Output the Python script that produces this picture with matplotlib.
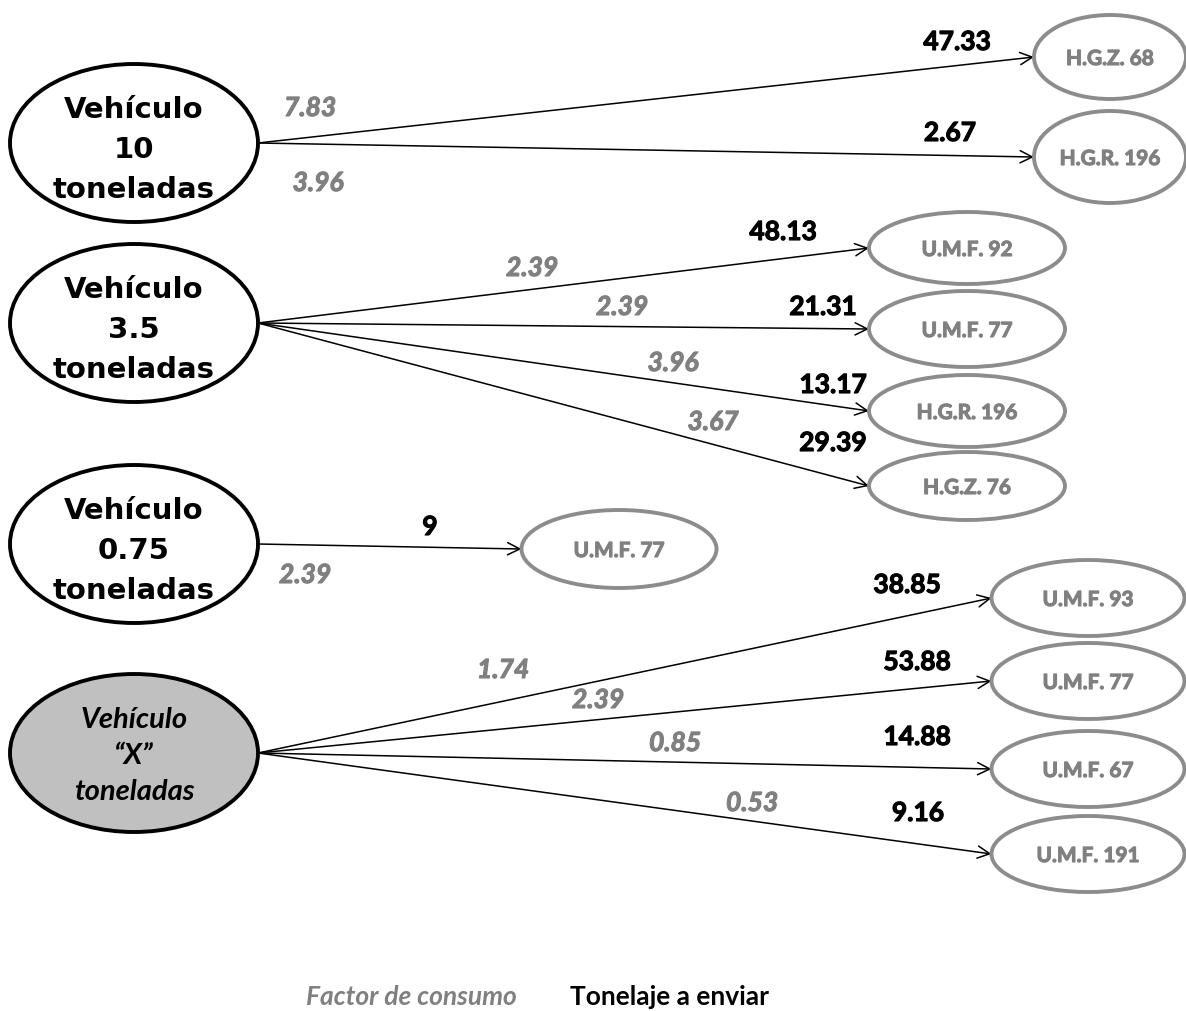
import matplotlib
matplotlib.use("Agg")
import matplotlib.pyplot as plt
import matplotlib.patheffects as pe
from matplotlib.patches import Ellipse

plt.rcParams['font.family'] = ['Lato', 'DejaVu Sans']

# data
vehicles = ["Vehículo\n10\ntoneladas", "Vehículo\n3.5\ntoneladas",
            "Vehículo\n0.75\ntoneladas", "Vehículo\n“X”\ntoneladas"]
destinos = [["H.G.Z. 68", "H.G.R. 196"],
            ["U.M.F. 92", "U.M.F. 77", "H.G.R. 196", "H.G.Z. 76"],
            ["U.M.F. 77"],
            ["U.M.F. 93", "U.M.F. 77", "U.M.F. 67", "U.M.F. 191"]]
factor = [[7.83, 3.96], [2.39, 2.39, 3.96, 3.67], [2.39], [1.74, 2.39, 0.85, 0.53]]
tonelaje = [[47.33, 2.67], [48.13, 21.31, 13.17, 29.39], [9], [38.85, 53.88, 14.88, 9.16]]

# layout (pixel space)
src_y = [143, 323, 544, 753]
src_x, src_w, src_h = 134, 248, 158
dst_boxes = [[(1110, 57, 152, 84), (1110, 157, 152, 92)],
             [(967, 248, 196, 72), (967, 329, 196, 76), (967, 411, 196, 72), (967, 486, 196, 68)],
             [(619, 549, 195, 78)],
             [(1088, 598, 193, 76), (1088, 681, 193, 76), (1088, 769, 193, 76), (1088, 854, 193, 76)]]
factor_pos = [[(310, 108), (318, 183)],
              [(532, 268), (622, 307), (673, 363), (713, 422)],
              [(305, 575)],
              [(503, 670), (598, 700), (675, 743), (752, 803)]]
ton_pos = [[(957, 42), (950, 133)],
           [(783, 232), (823, 307), (833, 385), (833, 443)],
           [(430, 527)],
           [(907, 585), (917, 662), (917, 737), (918, 813)]]

grey = '#808080'


def thick(c):
    # makes Lato bold look closer to the heavy original lettering
    return [pe.withStroke(linewidth=0.8, foreground=c)]


fig = plt.figure(figsize=(11.86, 10.11), dpi=100)
ax = fig.add_axes([0, 0, 1, 1])
ax.set_xlim(0, 1186)
ax.set_ylim(1011, 0)
ax.axis('off')

for i, name in enumerate(vehicles):
    cy = src_y[i]
    is_x = (i == 3)
    ax.add_patch(Ellipse((src_x, cy), src_w, src_h,
                         facecolor='#c0c0c0' if is_x else 'white',
                         edgecolor='black', lw=2.8, zorder=3))
    if is_x:
        ax.text(src_x, cy + 3, name, ha='center', va='center', fontsize=21,
                fontweight='bold', style='italic', linespacing=1.5, zorder=4)
    else:
        ax.text(src_x, cy + 7, name, ha='center', va='center', fontsize=21,
                family='DejaVu Sans', fontweight='bold', linespacing=1.55,
                zorder=4)
    x0 = src_x + src_w / 2
    for j, dest in enumerate(destinos[i]):
        dx, dy, dw, dh = dst_boxes[i][j]
        ax.add_patch(Ellipse((dx, dy), dw, dh, facecolor='white',
                             edgecolor='#8c8c8c', lw=2.8, zorder=3))
        ax.text(dx, dy + 2, dest, ha='center', va='center', fontsize=15,
                fontweight='bold', color=grey, zorder=4,
                path_effects=thick(grey))
        ax.annotate('', xy=(dx - dw / 2, dy), xytext=(x0, cy),
                    arrowprops=dict(arrowstyle='->', color='black', lw=1.1,
                                    mutation_scale=22, shrinkA=0, shrinkB=0),
                    zorder=2)
        fx, fy = factor_pos[i][j]
        ax.text(fx, fy, f"{factor[i][j]:g}", ha='center', va='center',
                fontsize=19, fontweight='bold', style='italic', color=grey,
                path_effects=thick(grey))
        tx, ty = ton_pos[i][j]
        ax.text(tx, ty, f"{tonelaje[i][j]:g}", ha='center', va='center',
                fontsize=19, fontweight='bold', color='black',
                path_effects=thick('black'))

ax.text(411, 997, "Factor de consumo", ha='center', va='center', fontsize=19,
        fontweight='bold', style='italic', color=grey)
ax.text(670, 997, "Tonelaje a enviar", ha='center', va='center', fontsize=19,
        fontweight='bold', color='black')

fig.savefig('out.png', dpi=100)
